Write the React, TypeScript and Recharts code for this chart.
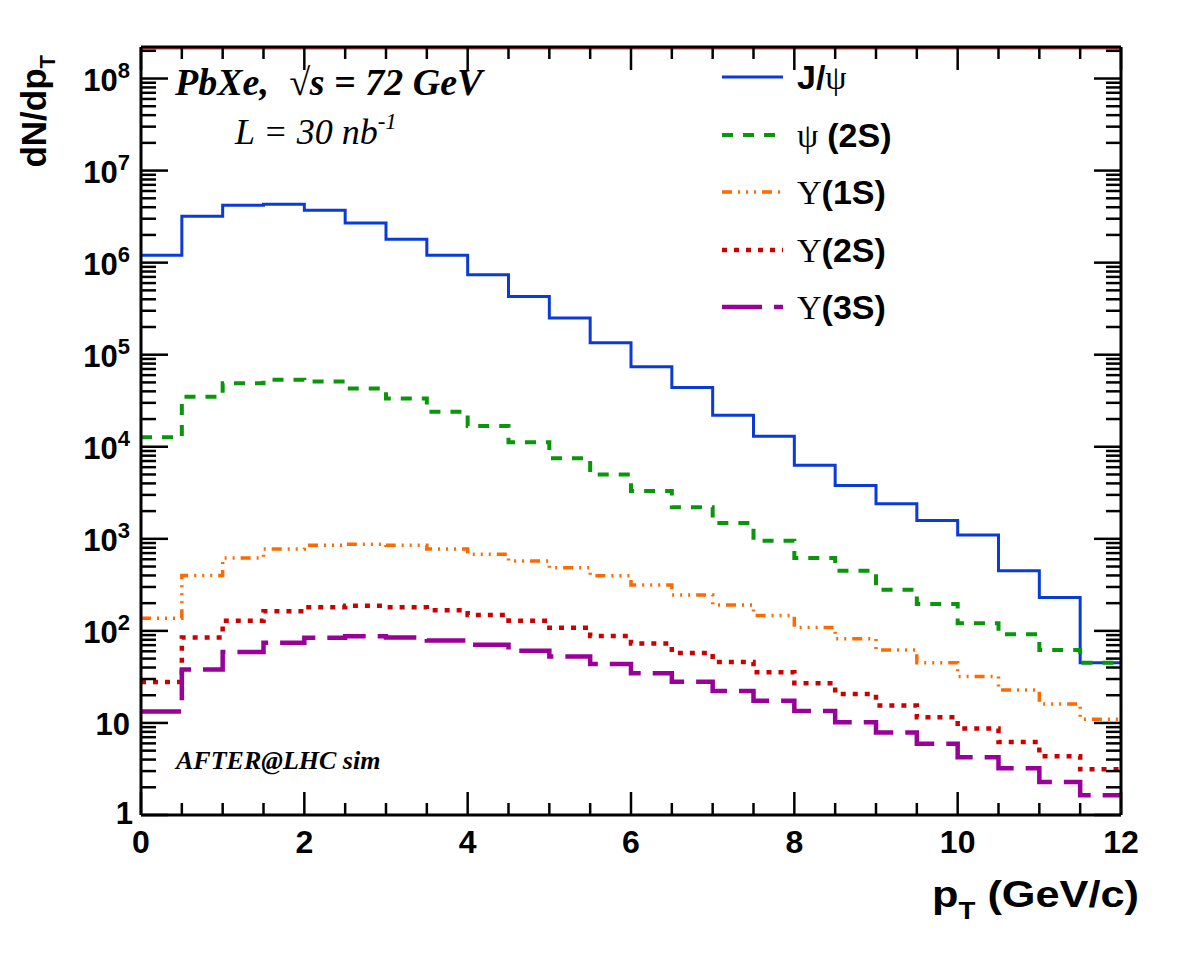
import { LineChart, Line, XAxis, YAxis, Legend, ReferenceLine } from "recharts";

const sans = "'Liberation Sans', Arial, Helvetica, sans-serif";
const serif = "'Liberation Serif', 'Times New Roman', serif";

// bin edges in pT (GeV/c), 0.5 wide
const ptEdges = [0, 0.5, 1, 1.5, 2, 2.5, 3, 3.5, 4, 4.5, 5, 5.5, 6, 6.5, 7, 7.5, 8, 8.5, 9, 9.5, 10, 10.5, 11, 11.5, 12];

// dN/dpT per bin
const jpsi = [1.2e6, 3.2e6, 4.2e6, 4.3e6, 3.7e6, 2.7e6, 1.8e6, 1.2e6, 7.4e5, 4.3e5, 2.5e5, 1.35e5, 7.4e4, 4.4e4, 2.2e4, 1.3e4, 6.3e3, 3.8e3, 2.4e3, 1.58e3, 1.1e3, 450, 230, 45];
const psi2s = [1.27e4, 3.5e4, 4.9e4, 5.35e4, 5.1e4, 4.3e4, 3.35e4, 2.4e4, 1.68e4, 1.12e4, 7.5e3, 5.0e3, 3.3e3, 2.2e3, 1.49e3, 955, 620, 450, 280, 196, 121, 92, 62, 45];
const ups1s = [137, 400, 620, 775, 850, 875, 850, 775, 680, 575, 484, 398, 316, 246, 191, 147, 109, 82, 62, 45, 32, 22.8, 16.1, 11];
const ups2s = [27.9, 84.6, 129, 163, 181, 187, 181, 168, 149, 129, 108, 88, 73, 57.6, 46, 35.5, 27, 20.6, 15.5, 11.5, 8.7, 6.2, 4.35, 3.14];
const ups3s = [13.3, 38, 59, 74.5, 84, 87.5, 84.6, 78.5, 70.5, 61, 52.6, 43.6, 34.7, 28, 22.3, 17.4, 13.5, 10.2, 7.85, 5.96, 4.24, 3.22, 2.28, 1.64];

const xTicks = ptEdges;
const xMajorTicks = [0, 2, 4, 6, 8, 10, 12];
const yDecades = [1, 10, 1e2, 1e3, 1e4, 1e5, 1e6, 1e7, 1e8];
const yMinorSteps = [2, 3, 4, 5, 6, 7, 8, 9];
const yMax = 2.2e8;
const yTicks = yDecades.flatMap((d) => [d, ...yMinorSteps.map((k) => k * d)]).filter((v) => v <= yMax);

// last edge repeats the last bin so stepAfter closes the histogram at 12
const data = ptEdges.map((pt, i) => {
  const j = Math.min(i, jpsi.length - 1);
  return { pt, jpsi: jpsi[j], psi2s: psi2s[j], ups1s: ups1s[j], ups2s: ups2s[j], ups3s: ups3s[j] };
});

const series = [
  { key: "jpsi", name: "J/ψ", color: "#0b3bd6", width: 3, dash: undefined },
  { key: "psi2s", name: "ψ (2S)", color: "#0a960a", width: 4, dash: "11 10" },
  { key: "ups1s", name: "Υ(1S)", color: "#ff6a00", width: 3.5, dash: "10 6 2 6 2 6 2 6" },
  { key: "ups2s", name: "Υ(2S)", color: "#cc0000", width: 4.5, dash: "5 7" },
  { key: "ups3s", name: "Υ(3S)", color: "#990099", width: 4.5, dash: "40 12" },
];

const tickStroke = { stroke: "#000", strokeWidth: 2.5 };

function BottomTick({ x, y, payload }: any) {
  const major = xMajorTicks.includes(payload.value);
  return (
    <g>
      <line x1={x} y1={y} x2={x} y2={y - (major ? 23 : 12)} {...tickStroke} />
      {major && (
        <text x={x} y={y + 38} textAnchor="middle" fontFamily={sans} fontWeight="bold" fontSize={32} fill="#000">
          {payload.value}
        </text>
      )}
    </g>
  );
}

function TopTick({ x, y, payload }: any) {
  const major = xMajorTicks.includes(payload.value);
  return <line x1={x} y1={y} x2={x} y2={y + (major ? 23 : 12)} {...tickStroke} />;
}

function LeftTick({ x, y, payload }: any) {
  const e = yDecades.indexOf(payload.value);
  const major = e >= 0;
  let label = null;
  if (e === 0) {
    label = (
      <text x={x - 8} y={y + 9} textAnchor="end" fontFamily={sans} fontWeight="bold" fontSize={31} fill="#000">1</text>
    );
  } else if (e === 1) {
    label = (
      <text x={x - 11} y={y + 12} textAnchor="end" fontFamily={sans} fontWeight="bold" fontSize={31} fill="#000">10</text>
    );
  } else if (e > 1) {
    label = (
      <text x={x - 11} y={y + 12} textAnchor="end" fontFamily={sans} fontWeight="bold" fontSize={31} fill="#000">
        10<tspan fontSize={22} dy={-13}>{e}</tspan>
      </text>
    );
  }
  return (
    <g>
      <line x1={x} y1={y} x2={x + (major ? 27 : 15)} y2={y} {...tickStroke} />
      {label}
    </g>
  );
}

function RightTick({ x, y, payload }: any) {
  const major = yDecades.includes(payload.value);
  return <line x1={x} y1={y} x2={x - (major ? 27 : 15)} y2={y} {...tickStroke} />;
}

function LegendLabel({ k }: { k: string }) {
  const b = { fontFamily: sans, fontWeight: "bold" as const };
  const s = { fontFamily: serif };
  if (k === "jpsi")
    return (<><tspan {...b}>J/</tspan><tspan {...s}>ψ</tspan></>);
  if (k === "psi2s")
    return (<><tspan {...s}>ψ</tspan><tspan {...b} dx={9}>(2S)</tspan></>);
  const n = k === "ups1s" ? "1S" : k === "ups2s" ? "2S" : "3S";
  return (<><tspan {...s}>Υ</tspan><tspan {...b}>({n})</tspan></>);
}

function LegendBox() {
  const rows = [27, 85, 142, 200, 257];
  return (
    <svg width={260} height={280}>
      {series.map((s, i) => (
        <g key={s.key}>
          <line x1={7} x2={68} y1={rows[i]} y2={rows[i]} stroke={s.color} strokeWidth={s.width} strokeDasharray={s.dash} />
          <text x={82} y={rows[i] + 12} fontSize={34} fill="#000">
            <LegendLabel k={s.key} />
          </text>
        </g>
      ))}
    </svg>
  );
}

export default function App() {
  return (
    <div style={{ position: "absolute", left: 0, top: 0, width: 1182, height: 961, background: "#fff" }}>
      <LineChart width={1182} height={961} data={data} margin={{ top: 46, right: 60, bottom: 86, left: 41 }}>
        <XAxis
          xAxisId="bottom"
          dataKey="pt"
          type="number"
          domain={[0, 12]}
          ticks={xTicks}
          interval={0}
          height={60}
          tickSize={0}
          tickMargin={0}
          tickLine={false}
          axisLine={{ stroke: "#000", strokeWidth: 3 }}
          tick={(p: any) => <BottomTick {...p} />}
          allowDataOverflow
        />
        <XAxis
          xAxisId="top"
          orientation="top"
          dataKey="pt"
          type="number"
          domain={[0, 12]}
          ticks={xTicks}
          interval={0}
          height={1}
          tickSize={0}
          tickMargin={0}
          tickLine={false}
          axisLine={{ stroke: "#000", strokeWidth: 3 }}
          tick={(p: any) => <TopTick {...p} />}
          allowDataOverflow
        />
        <YAxis
          yAxisId="left"
          type="number"
          scale="log"
          domain={[1, yMax]}
          ticks={yTicks}
          interval={0}
          width={100}
          tickSize={0}
          tickMargin={0}
          tickLine={false}
          axisLine={{ stroke: "#000", strokeWidth: 3 }}
          tick={(p: any) => <LeftTick {...p} />}
          allowDataOverflow
        />
        <YAxis
          yAxisId="right"
          orientation="right"
          type="number"
          scale="log"
          domain={[1, yMax]}
          ticks={yTicks}
          interval={0}
          width={1}
          tickSize={0}
          tickMargin={0}
          tickLine={false}
          axisLine={{ stroke: "#000", strokeWidth: 3 }}
          tick={(p: any) => <RightTick {...p} />}
          allowDataOverflow
        />
        <ReferenceLine xAxisId="bottom" yAxisId="left" y={2.1e8} stroke="#ff3030" strokeWidth={1.5} />
        {/* invisible copy so the top and right frame axes are in use */}
        <Line
          xAxisId="top"
          yAxisId="right"
          type="stepAfter"
          dataKey="jpsi"
          stroke="none"
          legendType="none"
          dot={false}
          activeDot={false}
          isAnimationActive={false}
        />
        {series.map((s) => (
          <Line
            key={s.key}
            xAxisId="bottom"
            yAxisId="left"
            type="stepAfter"
            dataKey={s.key}
            name={s.name}
            stroke={s.color}
            strokeWidth={s.width}
            strokeDasharray={s.dash}
            strokeLinecap="butt"
            dot={false}
            activeDot={false}
            isAnimationActive={false}
          />
        ))}
        <Legend
          layout="vertical"
          align="center"
          verticalAlign="middle"
          content={() => <LegendBox />}
          wrapperStyle={{ left: 715, top: 50, width: 260, height: 280 }}
        />
      </LineChart>
      <svg width={1182} height={961} style={{ position: "absolute", left: 0, top: 0, pointerEvents: "none" }}>
        <text x={175} y={95} fontFamily={serif} fontWeight="bold" fontStyle="italic" fontSize={38} fill="#000">
          PbXe,<tspan dx={20}>√s = 72 GeV</tspan>
        </text>
        <text x={235} y={144} fontFamily={serif} fontStyle="italic" fontSize={36} fill="#000">
          L = 30 nb<tspan fontSize={23} dy={-15}>-1</tspan>
        </text>
        <text x={176} y={769} fontFamily={serif} fontWeight="bold" fontStyle="italic" fontSize={26} fill="#000">
          AFTER@LHC sim
        </text>
        <text transform="translate(46, 55) rotate(-90)" textAnchor="end" fontFamily={sans} fontWeight="bold" fontSize={35} fill="#000">
          dN/dp<tspan fontSize={22} dy={9}>T</tspan>
        </text>
        <text
          x={932}
          y={907}
          textLength={207}
          lengthAdjust="spacingAndGlyphs"
          fontFamily={sans}
          fontWeight="bold"
          fontSize={36}
          fill="#000"
        >
          p<tspan fontSize={23} dy={12}>T</tspan><tspan dy={-12}> (GeV/c)</tspan>
        </text>
      </svg>
    </div>
  );
}
